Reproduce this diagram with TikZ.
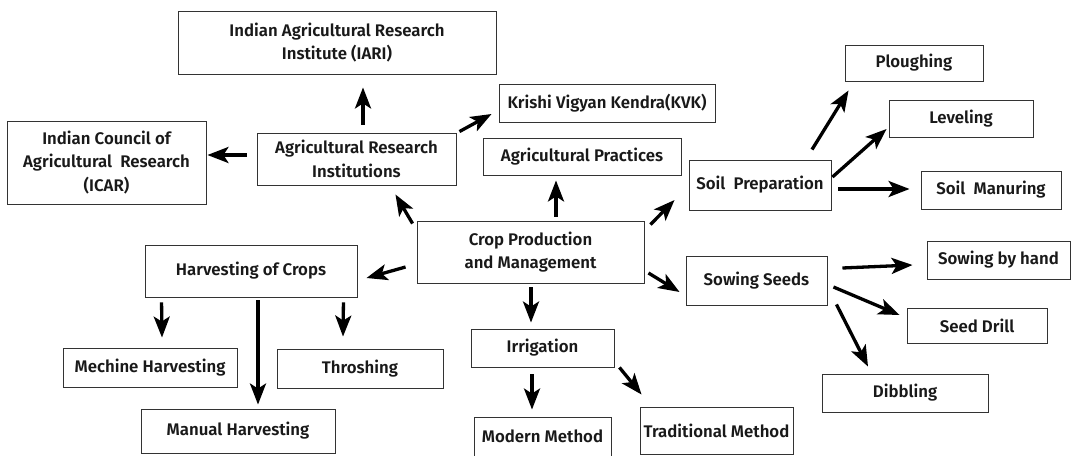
\documentclass[tikz,border=0pt]{standalone}
\usepackage{fontspec}
\setmainfont{Fira Sans}[UprightFont=* SemiBold]
\usetikzlibrary{arrows.meta}
\begin{document}
\begin{tikzpicture}[x=1pt,y=-1pt,
  box/.style={draw=black!80,line width=0.9pt,inner sep=0pt,align=center,
    font=\fontsize{16.8}{23.5}\selectfont,text=black!90},
  arr/.style={line width=3.3pt,-{Stealth[length=21pt,width=16pt,inset=5pt]}}]
\useasboundingbox (0,0) rectangle (1075,455);

% boxes: centre, width, height
\node[box,minimum width=318,minimum height=63] (iari) at (337,42.5) {Indian Agricultural Research\\Institute (IARI)};
\node[box,minimum width=216,minimum height=38] (kvk) at (607,103) {Krishi Vigyan Kendra(KVK)};
\node[box,minimum width=199,minimum height=83] (icar) at (106.5,162.5) {Indian Council of\\Agricultural\ \ Research\\(ICAR)};
\node[box,minimum width=199,minimum height=52] (ari) at (356.5,159) {Agricultural Research\\Institutions};
\node[box,minimum width=198,minimum height=37] (agp) at (582,156.5) {Agricultural Practices};
\node[box,minimum width=142,minimum height=50] (sp) at (760,185) {Soil\ \ Preparation};
\node[box,minimum width=138,minimum height=36] (plo) at (914,63) {Ploughing};
\node[box,minimum width=144,minimum height=37] (lev) at (961,118.5) {Leveling};
\node[box,minimum width=140,minimum height=38] (sm) at (991,190) {Soil\ \ Manuring};
\node[box,minimum width=227,minimum height=62] (cpm) at (530.5,252) {Crop Production\\and Management};
\node[box,minimum width=212,minimum height=52] (hoc) at (251,271) {Harvesting of Crops};
\node[box,minimum width=174,minimum height=39] (mh) at (150,367.5) {Mechine Harvesting};
\node[box,minimum width=166,minimum height=39] (thr) at (360,368.5) {Throshing};
\node[box,minimum width=194,minimum height=44] (man) at (238,431) {Manual Harvesting};
\node[box,minimum width=143,minimum height=38] (irr) at (542.5,348) {Irrigation};
\node[box,minimum width=137,minimum height=39] (mod) at (542.5,436.5) {Modern Method};
\node[box,minimum width=141,minimum height=49] (ss) at (756.5,280.5) {Sowing Seeds};
\node[box,minimum width=143,minimum height=38] (sbh) at (998.5,260) {Sowing by hand};
\node[box,minimum width=140,minimum height=35] (sd) at (977,325.5) {Seed Drill};
\node[box,minimum width=166,minimum height=38] (dib) at (905,393) {Dibbling};
\node[box,minimum width=153,minimum height=47] (trad) at (716.5,430.5) {Traditional Method};

% arrows
\draw[arr] ([shift={(6.5,-8)}]ari.north) -- ([shift={(26,13)}]iari.south);
\draw[arr] ([shift={(-10,-4)}]ari.west) -- ([shift={(1,-7.5)}]icar.east);
\draw[arr] ([shift={(3,-1)}]ari.north east) -- ([shift={(-7,11)}]kvk.west);
\draw[arr] ([shift={(-4,3)}]cpm.north west) -- ([shift={(-61,9)}]ari.south east);
\draw[arr] ([shift={(25.5,-4)}]cpm.north) -- ([shift={(-26,5)}]agp.south);
\draw[arr] ([shift={(6,4)}]cpm.north east) -- ([shift={(-14,15)}]sp.west);
\draw[arr] ([shift={(52,-10)}]sp.north) -- ([shift={(4,9)}]plo.south west);
\draw[arr] ([shift={(1,-8)}]sp.east) -- ([shift={(-2,10.5)}]lev.west);
\draw[arr] ([shift={(7,4)}]sp.east) -- ([shift={(-11,-1)}]sm.west);
\draw[arr] ([shift={(-11,15)}]cpm.west) -- ([shift={(9,7)}]hoc.east);
\draw[arr] ([shift={(0.5,4)}]cpm.south) -- ([shift={(-11.5,-6)}]irr.north);
\draw[arr] ([shift={(4,21)}]cpm.east) -- ([shift={(-6,11.5)}]ss.west);
\draw[arr] ([shift={(17,5)}]hoc.south west) -- ([shift={(12,-10)}]mh.north);
\draw[arr] ([shift={(7,3)}]hoc.south) -- ([shift={(20,-4)}]man.north);
\draw[arr] ([shift={(-14,5)}]hoc.south east) -- ([shift={(-17,-12)}]thr.north);
\draw[arr] ([shift={(-10.5,7)}]irr.south) -- ([shift={(-10.5,-7)}]mod.north);
\draw[arr] ([shift={(5,0)}]irr.south east) -- ([shift={(2,-12)}]trad.north west);
\draw[arr] ([shift={(15,-12.5)}]ss.east) -- ([shift={(-14,5)}]sbh.west);
\draw[arr] ([shift={(6,6.5)}]ss.east) -- ([shift={(-7,-10.5)}]sd.west);
\draw[arr] ([shift={(9,-1)}]ss.south east) -- ([shift={(-37,-7)}]dib.north);
\end{tikzpicture}
\end{document}
